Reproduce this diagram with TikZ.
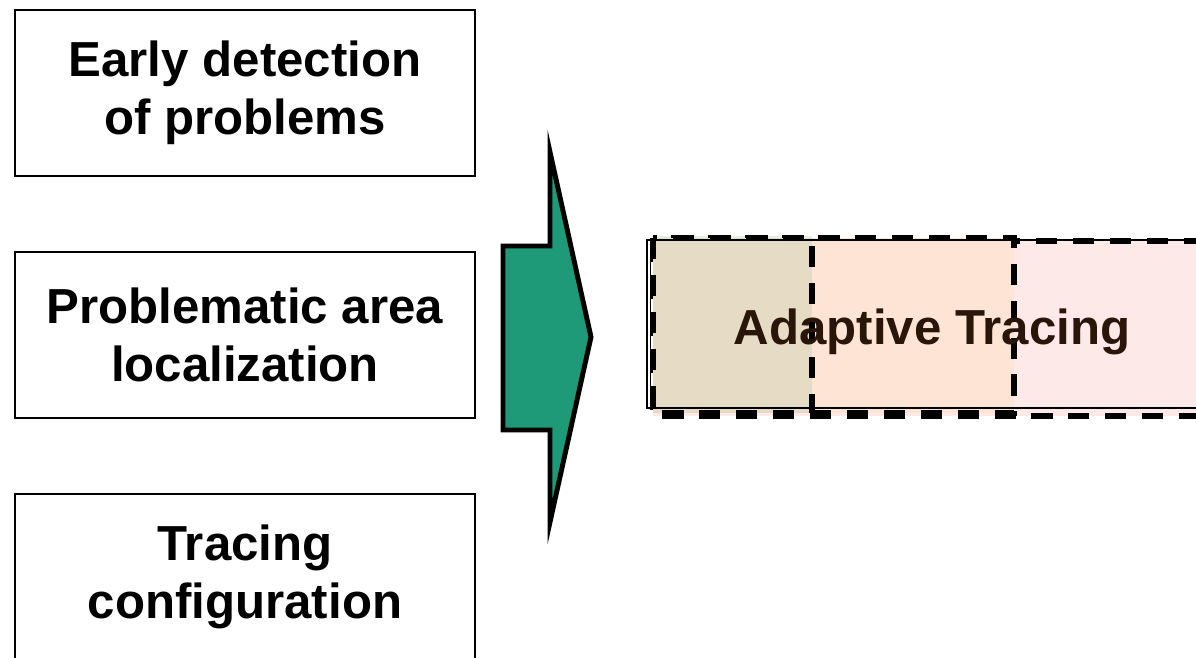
\documentclass[tikz,border=0pt]{standalone}
\usepackage{fontspec}
\setmainfont{Liberation Sans}
\definecolor{atarrow}{HTML}{1E9A78}
\definecolor{attan}{HTML}{E6DCC5}
\definecolor{atpeach}{HTML}{FEE4D4}
\definecolor{atpink}{HTML}{FCE9E8}
\definecolor{atmint}{HTML}{E2F0E4}
\definecolor{attext}{HTML}{2A1608}
\tikzset{
  goalbox/.style={draw,line width=0.8pt,minimum width=9.2cm,minimum height=3.32cm,
    align=center,font=\fontsize{28}{33}\selectfont\bfseries},
  phasebox/.style={draw,line width=3.3pt,dash pattern=on 12pt off 9pt},
}

\begin{document}
\begin{tikzpicture}[x=0.02cm,y=-0.02cm]
  \useasboundingbox (0,0) rectangle (1196,657);
  \node[goalbox] (early) at (245,93) {Early detection\\of problems};
  \node[goalbox] (local) at (245,335) {Problematic area\\localization};
  \node[goalbox] (config) at (245,577) {Tracing\\configuration};
  \draw[line width=2.8pt,fill=atarrow] (503,246) -- (550,246) -- (550,152) -- (591,337)
    -- (550,522) -- (550,430) -- (503,430) -- cycle;
  \fill[atmint] (653,236) rectangle (812,242);
  \draw[phasebox,fill=atpink] (653,241) rectangle (1215,416);
  \draw[phasebox,fill=atpeach] (653,238) rectangle (1014,413);
  \draw[phasebox,fill=attan] (653,238) rectangle (812,413);
  \draw[line width=0.6pt] (1200,240) -- (647,240) -- (647,408) -- (1200,408);
  \draw[line width=0.5pt] (650,240) -- (650,408);
  \node[font=\fontsize{28}{33}\selectfont\bfseries,text=attext,anchor=base] (adapt) at (932,344) {Adaptive Tracing};
\end{tikzpicture}
\end{document}
